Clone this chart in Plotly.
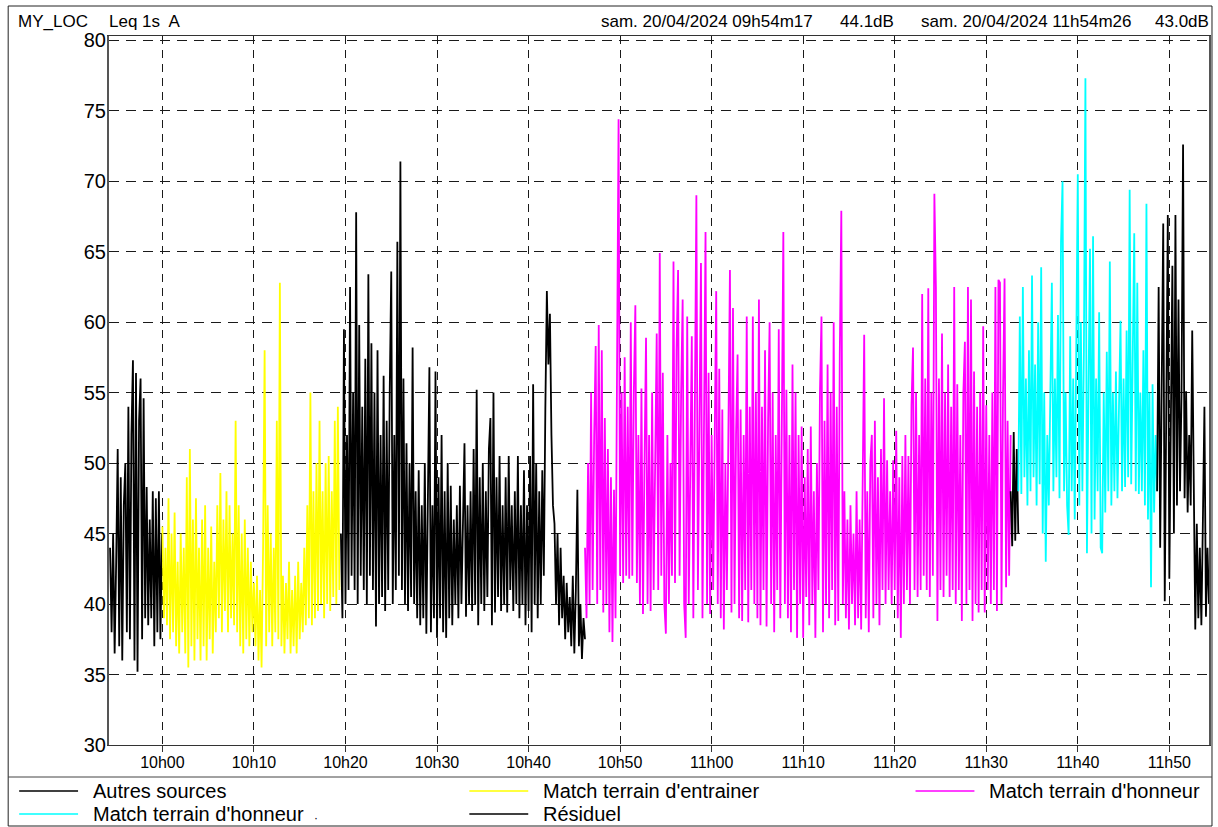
import pandas as pd
import plotly.graph_objects as go

# ---------------- data (Leq 1s, dB(A), values read every 10 s) ----------------
STEP = "10s"

autres_start_1 = "2024-04-20 09:54:17"
autres_values_1 = [44, 38, 45, 36.5, 43, 51, 37, 49, 36, 47,
                   50, 38, 54, 37.5, 52, 57.3, 36, 56.4, 35.2, 53,
                   56, 37.5, 54.6, 39, 48.3, 38.5, 46, 39, 48, 37,
                   47.5, 38, 48, 37.5, 45]

entrainer_start = "2024-04-20 10:00:00"
entrainer_values = [45.5, 39, 44, 38.5, 47.5, 37.5, 45, 38, 46.5, 37,
                    43, 36.5, 45, 38, 44, 36.5, 49, 35.5, 51, 37,
                    46, 36, 47.5, 37.5, 44, 36, 46, 37, 47, 36,
                    44, 37.5, 45.5, 36.5, 43, 38, 47, 39, 49.3, 38,
                    46, 39.5, 48, 38, 47, 39, 45, 38.5, 53, 38,
                    47, 37, 45, 36.5, 46, 37.5, 44, 37, 43, 38,
                    41.5, 37, 42, 36, 41, 35.5, 44, 58, 37, 47,
                    38, 45, 37, 44, 38, 53, 37.5, 62.8, 37, 42,
                    36.5, 41.5, 37.5, 43, 36.5, 41, 37, 42, 36.5, 43,
                    37.5, 41.5, 38, 44, 38.5, 47, 39, 55, 38.5, 48,
                    39, 50, 39.5, 53, 40, 48, 39, 50, 40, 50.5,
                    39.5, 48, 40.5, 53, 40, 54, 41]

autres_start_2 = "2024-04-20 10:19:30"
autres_values_2 = [45, 39, 59.5, 40, 52, 41, 62.5, 42, 55, 41,
                   67.8, 40, 59.8, 42, 54, 41, 57.4, 40, 63.4, 42,
                   58.5, 41, 55, 38.4, 58, 40, 52, 40.5, 56.2, 39.5,
                   53, 41, 55, 63.6, 40, 52, 41, 65.7, 42, 71.4,
                   41, 56, 40, 51.4, 39.5, 50, 40.5, 58.2, 40, 48,
                   39, 49.5, 38.5, 47, 39, 50, 37.9, 49, 56.8, 38,
                   47, 39, 56.5, 37.6, 49, 39, 52, 38, 48, 37.6,
                   50, 39, 48.4, 38.5, 46, 40, 47, 39, 48.4, 40,
                   46, 51.4, 39.1, 47, 40, 48, 39.5, 51, 40, 55.2,
                   38.5, 49, 40, 50, 39.5, 48, 40.5, 51, 53.2, 38.5,
                   55, 39.4, 49, 40.5, 50.5, 39.5, 47, 40, 49, 39.4,
                   50.5, 41, 47, 39.5, 48, 40, 50.5, 39, 47, 40,
                   49.5, 38.5, 47, 39.5, 50.5, 38, 55.6, 40, 50, 39,
                   48, 40, 49.5, 42, 53.8, 62.2, 57, 60.6, 52, 47,
                   45.7, 40, 45, 38.5, 44, 39, 42, 37.5, 41.5, 38,
                   40.5, 37, 42, 36.5, 41, 48.1, 37, 40, 36.1, 39,
                   37.5]

honneur1_start = "2024-04-20 10:46:10"
honneur1_values = [44, 39, 50, 40, 55, 41, 52, 58.3, 40, 59.8,
                   41, 58, 39.4, 53.2, 40, 51, 38, 49, 37.3, 48.1,
                   39, 60.4, 74.4, 42, 55, 41.5, 57.5, 42, 54, 41.8,
                   60, 42, 55, 61.2, 41.5, 52, 40, 55.3, 39.3, 50,
                   58.9, 40, 52, 39.5, 55, 41, 50, 59.2, 41, 64.9,
                   42, 56.4, 40, 37.9, 52, 40, 50, 42, 64.3, 41.5,
                   58, 63.7, 42, 55, 61.6, 40, 37.6, 60.4, 40, 52,
                   59, 39, 55, 69, 41, 54, 64.2, 39, 55, 66.4,
                   40, 56.4, 39.3, 52, 41, 55, 62.2, 40, 56.7, 39,
                   53.8, 38.2, 50, 41, 54, 63.7, 39.4, 61, 40, 52,
                   57.7, 39, 53.8, 38.8, 52, 41, 60.4, 38.7, 54, 41,
                   60.4, 40, 55, 39, 61.6, 38.5, 54, 41, 58, 38.4,
                   53, 60, 40, 55, 38, 52, 41, 59.5, 39, 54,
                   66.4, 40, 55.2, 39, 52, 38, 57, 41, 55, 37.6,
                   52, 40, 52.6, 37.6, 49, 40.5, 51, 38.5, 52.6, 40,
                   48, 37.6, 50, 41, 55, 60.4, 38, 53, 40, 57,
                   39, 55, 41, 60, 38.5, 54, 38.8, 57.7, 67.9, 40,
                   48, 39, 46, 38.2, 47, 40, 45, 38.5, 48, 39,
                   46, 38.2, 50, 59.1, 39, 48, 38, 50, 52, 39,
                   53, 40, 49, 38.5, 51, 41, 54.6, 40, 50.2, 41,
                   48, 40, 50.2, 41, 52.3, 39, 49, 37.6, 50.5, 40,
                   52, 41, 50.5, 40, 54.1, 58.2, 41, 55, 40.5, 52,
                   41, 62, 42, 56, 41, 62.4, 40.5, 55, 42, 69.1,
                   62.5, 38.8, 56, 41, 59.2, 40.5, 55, 42, 57, 40.5,
                   54, 41, 62.5, 40, 55.6, 41, 52, 38.8, 55, 58.6,
                   40, 62.5, 41, 61.6, 38.8, 56.5, 40, 54, 39.4, 55,
                   41, 59.7, 39.4, 54.1, 41, 52, 40, 55, 41, 62.5,
                   39.5, 63, 62.8, 40, 55, 63.1, 41.2, 53, 42, 52]

autres_start_3 = "2024-04-20 11:32:40"
autres_values_3 = [48, 44.1, 52.2, 44.5, 51, 45]

honneur2_start = "2024-04-20 11:33:30"
honneur2_values = [48, 60.4, 47.8, 62.5, 49, 56, 47, 58, 48, 63.3,
                   49, 57, 47, 60, 48.5, 63.9, 45, 55, 43, 52,
                   47, 57, 62.8, 48, 56, 49, 60.5, 47.5, 65.7, 70,
                   48, 55, 47, 44.9, 59, 48, 56, 46, 57, 70.5,
                   47, 60, 48, 58, 77.3, 43.6, 55, 65.2, 45, 66.1,
                   46, 56, 48, 60.7, 44, 43.6, 55, 46.5, 57.9, 48,
                   64.3, 47, 55, 48, 56.5, 47.5, 54, 60.1, 48, 56,
                   48.3, 59.4, 49, 69.4, 48.5, 56, 66.3, 48, 62.8, 47.8,
                   55, 48, 58, 47, 68.4, 46, 55, 41.2, 55.6, 46.5,
                   52, 48]

residuel_start = "2024-04-20 11:48:40"
residuel_values = [48, 62.5, 44, 58, 67, 40.2, 55, 67.6, 41.8, 56,
                   64, 45, 67.6, 47, 61.6, 48, 55, 72.6, 47.5, 55.1,
                   46.5, 52, 47, 59.4, 46, 38.2, 45.7, 39, 44, 38.5,
                   46, 54, 39.1, 44, 40]

y_ticks = [30, 35, 40, 45, 50, 55, 60, 65, 70, 75, 80]
header_left = ["MY_LOC", "Leq 1s  A"]
header_right = ["sam. 20/04/2024 09h54m17", "44.1dB", "sam. 20/04/2024 11h54m26", "43.0dB"]
legend_names = ["Autres sources", "Match terrain d'entrainer", "Match terrain d'honneur",
                "Match terrain d'honneur", "Résiduel"]
legend_colors = ["#000000", "#FFFF00", "#FF00FF", "#00FFFF", "#000000"]

# ---------------- figure ----------------
W, H = 1218, 827
L, R, T, B = 109, 1211, 36, 745


def px(x):
    return (x - L) / (R - L)


def py(y):
    return (B - y) / (B - T)


def times(start, vals):
    return pd.date_range(start, periods=len(vals), freq=STEP)


fig = go.Figure()
series = [
    (autres_start_1, autres_values_1, "#000000"),
    (entrainer_start, entrainer_values, "#FFFF00"),
    (autres_start_2, autres_values_2, "#000000"),
    (honneur1_start, honneur1_values, "#FF00FF"),
    (autres_start_3, autres_values_3, "#000000"),
    (honneur2_start, honneur2_values, "#00FFFF"),
    (residuel_start, residuel_values, "#000000"),
]
for start, vals, col in series:
    fig.add_trace(go.Scatter(x=times(start, vals), y=vals, mode="lines",
                             line=dict(color=col, width=1.8), showlegend=False,
                             hoverinfo="skip"))

grid_col = "#1a1a1a"
fig.update_xaxes(
    range=["2024-04-20 09:54:10", "2024-04-20 11:54:20"],
    tick0="2024-04-20 10:00:00", dtick=600000, tickformat="%Hh%M",
    showgrid=True, gridcolor=grid_col, griddash="8px,6px", gridwidth=1,
    showline=True, linecolor="#333333", linewidth=1, mirror=True,
    ticks="outside", ticklen=6, tickcolor="#333333", ticklabelstandoff=-3,
    tickfont=dict(family="Liberation Sans, Arial", size=16, color="#000"),
    zeroline=False,
)
fig.update_yaxes(
    range=[30, 80.3], tickvals=y_ticks, ticktext=[str(v) for v in y_ticks],
    showgrid=True, gridcolor=grid_col, griddash="10px,7px", gridwidth=1,
    showline=True, linecolor="#555555", linewidth=2, mirror=True,
    ticks="", ticklabelstandoff=-3,
    tickfont=dict(family="Liberation Sans, Arial", size=20, color="#000"),
    zeroline=False,
)

shapes = []
# outer frame
shapes.append(dict(type="rect", xref="paper", yref="paper", x0=px(8), x1=px(1214),
                   y0=py(826), y1=py(6), line=dict(color="#222", width=1)))
# legend separator
shapes.append(dict(type="line", xref="paper", yref="paper", x0=px(8), x1=px(1214),
                   y0=py(777), y1=py(777), line=dict(color="#444", width=1)))

annotations = []
hfont = dict(family="Liberation Sans, Arial", size=17, color="#000")
for txt, x in zip(header_left, [16, 107]):
    annotations.append(dict(text=txt, x=px(x), y=py(21), xref="paper", yref="paper",
                            xanchor="left", yanchor="middle", showarrow=False, font=hfont))
for txt, x in zip(header_right, [600, 839, 920, 1155]):
    annotations.append(dict(text=txt, x=px(x), y=py(21), xref="paper", yref="paper",
                            xanchor="left", yanchor="middle", showarrow=False, font=hfont))

# legend (manual layout)
lfont = dict(family="Liberation Sans, Arial", size=20, color="#000")
leg_pos = [(19, 791), (470, 791), (917, 791), (19, 814), (470, 814)]
for name, col, (x, y) in zip(legend_names, legend_colors, leg_pos):
    shapes.append(dict(type="line", xref="paper", yref="paper", x0=px(x), x1=px(x + 59),
                       y0=py(y), y1=py(y), line=dict(color=col, width=1.6)))
    annotations.append(dict(text=name, x=px(x + 72), y=py(y), xref="paper", yref="paper",
                            xanchor="left", yanchor="middle", showarrow=False, font=lfont))
annotations.append(dict(text="·", x=px(316), y=py(818), xref="paper", yref="paper",
                        xanchor="center", yanchor="middle", showarrow=False,
                        font=dict(family="Liberation Sans", size=12, color="#000")))

fig.update_layout(
    width=W, height=H, autosize=False,
    margin=dict(l=L, r=W - R, t=T, b=H - B, pad=0),
    paper_bgcolor="white", plot_bgcolor="white",
    showlegend=False, shapes=shapes, annotations=annotations,
)
fig.write_html("out.html", config={"displayModeBar": False},
               post_script="document.body.style.margin='0px';"
                           "document.body.style.overflow='hidden';")
